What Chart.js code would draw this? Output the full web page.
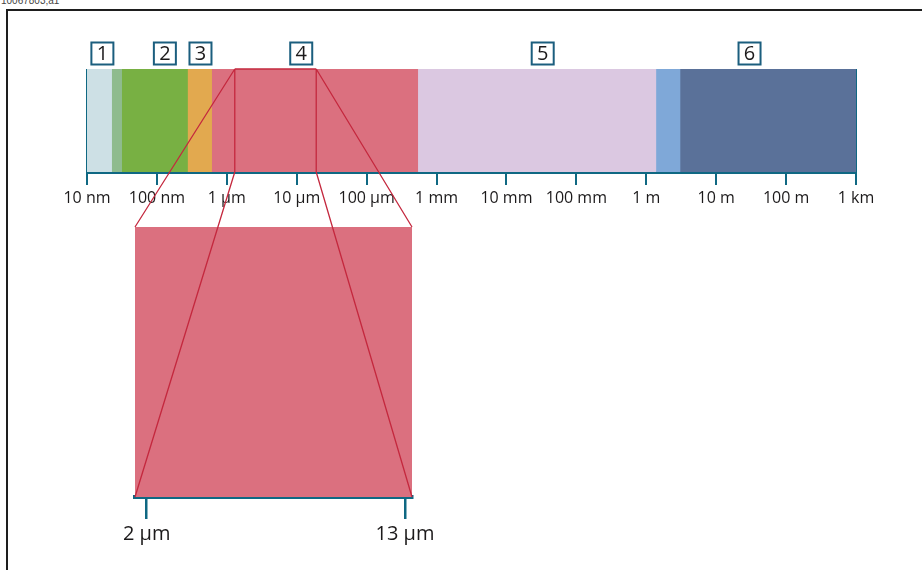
<!doctype html>
<html lang="en">
<head>
<meta charset="utf-8">
<title>Spectrum</title>
<script src="https://cdn.jsdelivr.net/npm/chart.js"></script>
<style>
  body { margin: 0; background: #fff; }
  .wrap { position: relative; width: 922px; height: 570px; overflow: hidden; }
  .wrap canvas { position: absolute; left: 0; top: 0; }
  .frame { position: absolute; left: 6px; top: 9px; width: 940px; height: 600px; border-top: 2px solid #1e1e1e; border-left: 2px solid #1e1e1e; }
  .docid { position: absolute; left: 1px; top: -5px; font: 10px "Liberation Sans", Arial, sans-serif; color: #444; }
</style>
</head>
<body>
<div class="wrap">
  <div class="docid">10067803;a1</div>
  <div class="frame"></div>
  <canvas id="spectrum" width="922" height="570"></canvas>
  <canvas id="detail" width="922" height="570"></canvas>
</div>
<script>
// wavelength in metres where each colour band starts / ends
const bandEdges = [1e-8, 2.3e-8, 3.2e-8, 2.8e-7, 6.2e-7, 5.5e-4, 1.4, 3.1, 1e3];
const bandColors = ['#cde0e5', '#8fbb8e', '#78b043', '#e2a94f', '#db707f', '#dbc8e1', '#7fa8d8', '#5a7199'];
const tickValues = [1e-8, 1e-7, 1e-6, 1e-5, 1e-4, 1e-3, 1e-2, 1e-1, 1, 10, 100, 1000];
const tickLabels = ['10 nm', '100 nm', '1 µm', '10 µm', '100 µm', '1 mm', '10 mm', '100 mm', '1 m', '10 m', '100 m', '1 km'];
const regionNumbers = ['1', '2', '3', '4', '5', '6'];
const regionCenters = [1.66e-8, 1.3e-7, 4.2e-7, 1.16e-5, 3.3e-2, 30];
const zoomWindow = [1.3e-6, 1.9e-5];   // outlined part of band 4
const zoomRange = [1.5, 13.3];         // µm, enlarged box
const zoomTicks = [2, 13];
const zoomTickLabels = ['2 µm', '13 µm'];

const teal = '#0f6883';
const red = '#c4283e';
const textColor = '#1c1a1b';

const regionBoxes = {
  id: 'regionBoxes',
  afterDraw(chart) {
    const ctx = chart.ctx, x = chart.scales.x, top = chart.chartArea.top;
    ctx.save();
    ctx.font = '20px "Open Sans"';
    ctx.textAlign = 'center';
    ctx.textBaseline = 'middle';
    regionNumbers.forEach((n, i) => {
      const cx = x.getPixelForValue(regionCenters[i]);
      const cy = top - 15.5;
      ctx.strokeStyle = '#1b5e7e';
      ctx.lineWidth = 2;
      ctx.strokeRect(cx - 11, cy - 11, 22, 22);
      ctx.fillStyle = textColor;
      ctx.fillText(n, cx, cy + 1);
    });
    ctx.restore();
  }
};

const topChart = new Chart(document.getElementById('spectrum'), {
  type: 'bar',
  data: {
    labels: ['band'],
    datasets: [{
      data: bandColors.map((c, i) => ({ x: [bandEdges[i], bandEdges[i + 1]], y: 'band' })),
      backgroundColor: bandColors,
      borderWidth: 0,
      categoryPercentage: 1,
      barPercentage: 1
    }]
  },
  options: {
    indexAxis: 'y',
    responsive: false,
    animation: false,
    events: [],
    layout: { padding: { left: 87, right: 66, top: 69, bottom: 358 } },
    plugins: { legend: { display: false }, tooltip: { enabled: false } },
    scales: {
      x: {
        type: 'logarithmic',
        min: 1e-8,
        max: 1e3,
        z: 1,
        afterBuildTicks: s => { s.ticks = tickValues.map(v => ({ value: v })); },
        afterFit: s => { s.height = 40; },
        border: { display: true, color: teal, width: 3 },
        grid: {
          drawOnChartArea: true,
          color: c => (c.index === 0 || c.index === tickValues.length - 1) ? teal : 'rgba(0,0,0,0)',
          tickColor: teal,
          lineWidth: 2,
          tickLength: 13
        },
        ticks: {
          callback: (v, i) => tickLabels[i],
          font: { family: 'Open Sans', size: 16 },
          color: textColor,
          padding: 4,
          maxRotation: 0,
          autoSkip: false
        }
      },
      y: { display: false }
    }
  },
  plugins: [regionBoxes]
});

const zoomLines = {
  id: 'zoomLines',
  afterDraw(chart) {
    const ctx = chart.ctx;
    const tx = topChart.scales.x, ta = topChart.chartArea, ba = chart.chartArea;
    const xl = tx.getPixelForValue(zoomWindow[0]);
    const xr = tx.getPixelForValue(zoomWindow[1]);
    ctx.save();
    ctx.strokeStyle = red;
    ctx.lineWidth = 1.3;
    ctx.beginPath();
    ctx.moveTo(xl, ta.top); ctx.lineTo(xr, ta.top);
    ctx.moveTo(xl, ta.top); ctx.lineTo(xl, ta.bottom);
    ctx.moveTo(xr, ta.top); ctx.lineTo(xr, ta.bottom);
    ctx.moveTo(xl, ta.top); ctx.lineTo(ba.left, ba.top);
    ctx.moveTo(xl, ta.bottom); ctx.lineTo(ba.left, ba.bottom);
    ctx.moveTo(xr, ta.top); ctx.lineTo(ba.right, ba.top);
    ctx.moveTo(xr, ta.bottom); ctx.lineTo(ba.right, ba.bottom);
    ctx.stroke();
    ctx.restore();
  }
};

new Chart(document.getElementById('detail'), {
  type: 'bar',
  data: {
    labels: ['zoom'],
    datasets: [{
      data: [{ x: zoomRange, y: 'zoom' }],
      backgroundColor: bandColors[4],
      borderWidth: 0,
      categoryPercentage: 1,
      barPercentage: 1
    }]
  },
  options: {
    indexAxis: 'y',
    responsive: false,
    animation: false,
    events: [],
    layout: { padding: { left: 135, right: 510, top: 227, bottom: 23 } },
    plugins: { legend: { display: false }, tooltip: { enabled: false } },
    scales: {
      x: {
        type: 'linear',
        min: zoomRange[0],
        max: zoomRange[1],
        afterBuildTicks: s => { s.ticks = zoomTicks.map(v => ({ value: v })); },
        afterFit: s => { s.height = 50; },
        border: { display: true, color: teal, width: 4 },
        grid: { drawOnChartArea: false, tickColor: teal, lineWidth: 2.5, tickLength: 22 },
        ticks: {
          callback: (v, i) => zoomTickLabels[i],
          font: { family: 'Open Sans', size: 20 },
          color: textColor,
          padding: 3,
          maxRotation: 0,
          autoSkip: false
        }
      },
      y: { display: false }
    }
  },
  plugins: [zoomLines]
});
</script>
</body>
</html>
